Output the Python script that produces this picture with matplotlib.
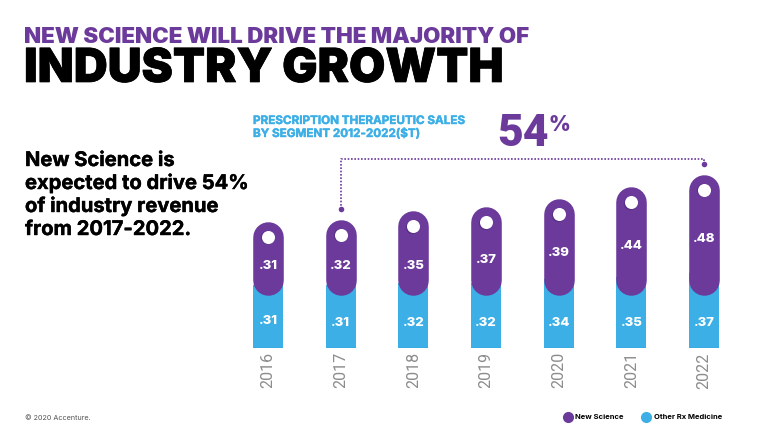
#!/usr/bin/env python
"""New Science vs other Rx medicine sales, stacked pills."""

import matplotlib
matplotlib.use('Agg')
import matplotlib.pyplot as plt
from matplotlib.lines import Line2D
import matplotlib.patheffects as pe
import numpy as np

years = ['2016', '2017', '2018', '2019', '2020', '2021', '2022']
new_science = [.31, .32, .35, .37, .39, .44, .48]
other_rx = [.31, .31, .32, .32, .34, .35, .37]
new_labels = ['.31', '.32', '.35', '.37', '.39', '.44', '.48']
other_labels = ['.31', '.31', '.32', '.32', '.34', '.35', '.37']

PURPLE = '#6b3a9b'
BLUE = '#3cafe6'
W, H = 768, 432

plt.rcParams['font.family'] = ['Inter', 'DejaVu Sans']

def px_text(x, y, s, **kw):
    # place text using reference pixel coordinates
    return fig.text(x/W, 1 - y/H, s, **kw)

fig = plt.figure(figsize=(7.68, 4.32), dpi=100)
# one x unit = 72.67 px, one y unit = 204 px, baseline at y=348
ax = fig.add_axes([232/W, 1 - 348/H, 508/W, 208/H])
ax.set_xlim(-0.495, 6.495)
ax.set_ylim(0, 1.02)
for s in ax.spines.values():
    s.set_visible(False)
ax.set_yticks([])
x = np.arange(len(years))
ax.set_xticks(x)
ax.set_xticklabels(years, rotation=90, color='#8c8c8c', fontsize=11.5, family='Roboto')
ax.tick_params(axis='x', length=0, pad=3)

new_arr = np.array(new_science)
other_arr = np.array(other_rx)
total = new_arr + other_arr

bar_w = 30/72.67
radius = 15/204      # pill end radius in data units
pill_base = 53/204   # all pills end at the same height

ax.bar(x, other_arr, width=bar_w, color=BLUE, linewidth=0, zorder=1)
ax.hlines(np.full(len(x), 0.002), x - bar_w/2, x + bar_w/2, color='#2f9fd6', lw=1, zorder=1)
for i in x:
    ax.plot([i, i], [pill_base + radius, total[i] - radius], color=PURPLE, lw=22,
            solid_capstyle='round', zorder=2)

# white holes at the top of the pills, with a small shadow
ax.scatter(x - 0.015, total - radius - 0.004, s=92, color='#593085', linewidths=0, zorder=3)
ax.scatter(x, total - radius, s=88, color='white', linewidths=0, zorder=4)

# value labels
new_label_y = [.40, .40, .40, .43, .465, .50, .535]
other_label_y = [.13, .125, .125, .125, .125, .125, .125]
for i in x:
    ax.text(i, new_label_y[i], new_labels[i], color='white', fontsize=9.5, fontweight='heavy',
            ha='center', va='center', zorder=5)
    ax.text(i, other_label_y[i], other_labels[i], color='white', fontsize=9.5, fontweight='heavy',
            ha='center', va='center', zorder=5)

# bracket from 2017 to 2022
bracket_y = 0.926
ax.plot([1, 1, 6, 6], [total[1] + 0.05, bracket_y, bracket_y, total[6] + 0.05], color=PURPLE,
        lw=1.2, ls=(0, (1, 1)), zorder=2)
ax.scatter([1, 6], [total[1] + 0.05, total[6] + 0.05], s=16, color=PURPLE, linewidths=0, zorder=3)

# titles
px_text(24, 43, 'NEW SCIENCE WILL DRIVE THE MAJORITY OF', color=PURPLE, fontsize=16.1, fontweight='black',
        ha='left', va='baseline')
px_text(24, 82, 'INDUSTRY GROWTH', color='black', fontsize=33.8, fontweight='black', ha='left', va='baseline',
        path_effects=[pe.withStroke(linewidth=0.5, foreground='black')])

sub_fx = [pe.withStroke(linewidth=0.3, foreground=BLUE)]
px_text(253, 124, 'PRESCRIPTION THERAPEUTIC SALES', color=BLUE, fontsize=8.4, fontweight='bold', va='baseline',
        path_effects=sub_fx)
px_text(253, 137, 'BY SEGMENT 2012-2022($T)', color=BLUE, fontsize=8.4, fontweight='bold', va='baseline',
        path_effects=sub_fx)

px_text(497, 146, '54', color=PURPLE, fontsize=32, fontweight='black', family='Roboto', va='baseline')
px_text(549, 131, '%', color=PURPLE, fontsize=15, fontweight='black', va='baseline')

body_fx = [pe.withStroke(linewidth=0.3, foreground='black')]
for line, y in zip(['New Science is', 'expected to drive 54%', 'of industry revenue', 'from 2017-2022.'],
                   [166, 189, 212, 235]):
    px_text(25, y, line, color='black', fontsize=14.5, fontweight='bold', va='baseline', path_effects=body_fx)

px_text(25, 420, '© 2020 Accenture.', color='#555555', fontsize=5.2, va='baseline')

handles = [Line2D([], [], ls='', marker='o', ms=7, color=PURPLE, label='New Science'),
           Line2D([], [], ls='', marker='o', ms=7, color=BLUE, label='Other Rx Medicine')]
fig.legend(handles=handles, ncol=2, frameon=False, loc='center', bbox_to_anchor=(641/W, 1 - 417/H),
           prop={'size': 5.5, 'weight': 'bold'}, handletextpad=0.0, columnspacing=1.9)

fig.savefig('out.png', dpi=100)
